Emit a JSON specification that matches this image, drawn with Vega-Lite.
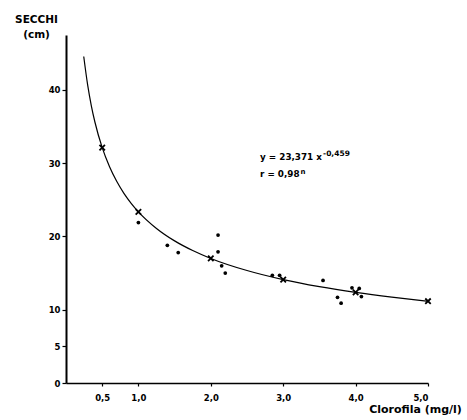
{
  "$schema": "https://vega.github.io/schema/vega-lite/v6.json",
  "width": 362,
  "height": 348,
  "autosize": {"type": "none"},
  "padding": {"left": 66, "top": 35, "right": 39, "bottom": 37},
  "background": "white",
  "config": {
    "view": {"stroke": null},
    "font": "DejaVu Sans",
    "axis": {"domainColor": "black", "tickColor": "black", "labelColor": "black", "titleColor": "black", "grid": false, "labelFont": "DejaVu Sans", "labelFontWeight": "bold", "titleFont": "DejaVu Sans", "titleFontWeight": "bold"}
  },
  "datasets": {
    "curve": [
      {"x": 0.245, "y": 44.57}, {"x": 0.3, "y": 40.62}, {"x": 0.35, "y": 37.84}, {"x": 0.4, "y": 35.59},
      {"x": 0.5, "y": 32.12}, {"x": 0.6, "y": 29.55}, {"x": 0.7, "y": 27.53}, {"x": 0.8, "y": 25.89},
      {"x": 0.9, "y": 24.53}, {"x": 1.0, "y": 23.37}, {"x": 1.25, "y": 21.10}, {"x": 1.5, "y": 19.40},
      {"x": 1.75, "y": 18.08}, {"x": 2.0, "y": 17.00}, {"x": 2.5, "y": 15.35}, {"x": 3.0, "y": 14.11},
      {"x": 3.5, "y": 13.15}, {"x": 4.0, "y": 12.37}, {"x": 4.5, "y": 11.72}, {"x": 5.0, "y": 11.16}
    ],
    "obs": [
      {"x": 1.0, "y": 21.9}, {"x": 1.4, "y": 18.8}, {"x": 1.55, "y": 17.8}, {"x": 2.1, "y": 20.2},
      {"x": 2.1, "y": 17.9}, {"x": 2.15, "y": 16.0}, {"x": 2.2, "y": 15.0}, {"x": 2.85, "y": 14.7},
      {"x": 2.95, "y": 14.7}, {"x": 3.55, "y": 14.0}, {"x": 3.95, "y": 13.0}, {"x": 4.05, "y": 12.9},
      {"x": 3.75, "y": 11.7}, {"x": 3.8, "y": 10.9}, {"x": 4.08, "y": 11.8}
    ],
    "fit": [
      {"x": 0.5, "y": 32.12}, {"x": 1.0, "y": 23.37}, {"x": 2.0, "y": 17.0},
      {"x": 3.0, "y": 14.11}, {"x": 4.0, "y": 12.37}, {"x": 5.0, "y": 11.16}
    ]
  },
  "layer": [
    {
      "data": {"name": "curve"},
      "mark": {"type": "line", "color": "black", "strokeWidth": 1.2, "interpolate": "monotone"},
      "encoding": {
        "x": {"field": "x", "type": "quantitative", "scale": {"domain": [0, 5], "nice": false, "zero": false},
          "axis": {"values": [0.5, 1, 2, 3, 4, 5], "labelExpr": "replace(format(datum.value, '.1f'), '.', ',')",
            "domainWidth": 1.5, "tickSize": 3, "tickWidth": 1.2, "labelFontSize": 8.5, "labelPadding": 7,
            "title": "Clorofila (mg/l)", "titleFontSize": 11, "titleAnchor": "start", "titleAlign": "center",
            "titleX": 349, "titleY": 26, "titleBaseline": "middle"}},
        "y": {"field": "y", "type": "quantitative", "scale": {"domain": [0, 47.5], "nice": false, "zero": true},
          "axis": {"values": [0, 5, 10, 20, 30, 40], "domainWidth": 2, "tickSize": 4, "tickWidth": 1.2,
            "labelFontSize": 8.5, "labelPadding": 2,
            "title": ["SECCHI", "(cm)"], "titleFontSize": 10.5, "titleAngle": 0, "titleAlign": "center",
            "titleBaseline": "top", "titleX": -30, "titleY": -21, "titleLineHeight": 15}}
      }
    },
    {
      "data": {"name": "obs"},
      "mark": {"type": "point", "shape": "circle", "filled": true, "color": "black", "size": 14, "opacity": 1},
      "encoding": {
        "x": {"field": "x", "type": "quantitative"},
        "y": {"field": "y", "type": "quantitative"}
      }
    },
    {
      "data": {"name": "fit"},
      "mark": {"type": "point", "shape": "M -1 -1 L 1 1 M -1 1 L 1 -1", "filled": false, "color": "black", "strokeWidth": 1.8, "size": 30, "opacity": 1},
      "encoding": {
        "x": {"field": "x", "type": "quantitative"},
        "y": {"field": "y", "type": "quantitative"}
      }
    },
    {
      "data": {"values": [{"t": "y = 23,371 x"}]},
      "mark": {"type": "text", "align": "left", "baseline": "middle", "fontSize": 8.8, "fontWeight": "bold", "color": "black"},
      "encoding": {"x": {"datum": 2.68}, "y": {"datum": 30.8}, "text": {"field": "t"}}
    },
    {
      "data": {"values": [{"t": "-0,459"}]},
      "mark": {"type": "text", "align": "left", "baseline": "middle", "fontSize": 7.5, "fontWeight": "bold", "color": "black"},
      "encoding": {"x": {"datum": 3.55}, "y": {"datum": 31.3}, "text": {"field": "t"}}
    },
    {
      "data": {"values": [{"t": "r = 0,98"}]},
      "mark": {"type": "text", "align": "left", "baseline": "middle", "fontSize": 8.8, "fontWeight": "bold", "color": "black"},
      "encoding": {"x": {"datum": 2.68}, "y": {"datum": 28.5}, "text": {"field": "t"}}
    },
    {
      "data": {"values": [{"t": "n"}]},
      "mark": {"type": "text", "align": "left", "baseline": "middle", "fontSize": 7, "fontWeight": "bold", "color": "black"},
      "encoding": {"x": {"datum": 3.24}, "y": {"datum": 28.8}, "text": {"field": "t"}}
    }
  ]
}
